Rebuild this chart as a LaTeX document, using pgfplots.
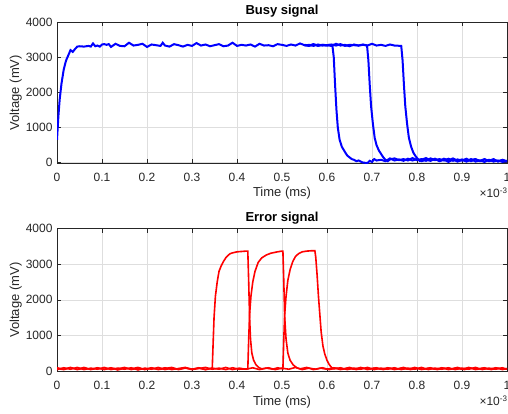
\documentclass[border=0pt]{standalone}
\usepackage{fontspec}
\setmainfont{Liberation Sans}
\usepackage{pgfplots}
\pgfplotsset{compat=1.18}

\definecolor{axgray}{gray}{0.15}
\definecolor{gridgray}{gray}{0.87}

\pgfplotsset{
  scopeax/.style={
    scale only axis,
    width=450pt,
    xmin=0, xmax=1, ymin=-20, ymax=4000,
    xtick={0,0.1,...,1},
    xticklabels={0,0.1,0.2,0.3,0.4,0.5,0.6,0.7,0.8,0.9,1},
    ytick={0,1000,2000,3000,4000},
    /pgf/number format/1000 sep={},
    /pgf/number format/assume math mode=true,
    tick align=inside,
    major tick length=4pt,
    tick style={axgray, line width=0.5pt},
    grid=major,
    major grid style={gridgray, line width=0.5pt},
    axis line style={axgray, line width=0.6pt},
    tick label style={font=\fontsize{12}{14}\selectfont, text=axgray},
    xticklabel style={yshift=-6pt},
    yticklabel style={xshift=-1pt},
    label style={font=\fontsize{13}{15}\selectfont, text=axgray},
    title style={font=\fontsize{13}{15}\selectfont\bfseries, yshift=-5pt},
    xlabel={Time (ms)},
    ylabel={Voltage (mV)},
    xlabel style={yshift=1pt},
    ylabel style={yshift=-3pt},
    clip=true,
  },
}

\begin{document}
\begin{tikzpicture}[x=1pt,y=1pt]
\path[use as bounding box] (0,0) rectangle (508,413);

% ---- Busy signal ----
\begin{axis}[scopeax, at={(57pt,249.7pt)}, anchor=south west, height=141.3pt,
  title={Busy signal}]
\addplot[blue, line width=2pt] coordinates {
(0,650) (0.003,1300) (0.006,1800) (0.01,2250) (0.015,2650) (0.02,2900) (0.025,3050)
(0.03,3200) (0.035,3150) (0.04,3230) (0.045,3300) (0.05,3310) (0.06,3300) (0.07,3320)
(0.075,3300) (0.08,3390) (0.085,3310) (0.09,3330) (0.095,3300) (0.10,3360) (0.105,3370)
(0.11,3350) (0.115,3370) (0.12,3290) (0.13,3380) (0.14,3320) (0.15,3310) (0.16,3410)
(0.17,3330) (0.18,3350) (0.19,3380) (0.20,3290) (0.21,3360) (0.22,3340) (0.23,3320)
(0.235,3410) (0.24,3330) (0.25,3300) (0.26,3370) (0.27,3340) (0.28,3300) (0.29,3350)
(0.30,3320) (0.31,3400) (0.32,3330) (0.33,3360) (0.34,3310) (0.35,3340) (0.36,3370)
(0.37,3310) (0.38,3330) (0.39,3410) (0.40,3320) (0.41,3350) (0.42,3330) (0.43,3360)
(0.44,3300) (0.45,3380) (0.46,3330) (0.47,3340) (0.48,3310) (0.49,3370) (0.50,3350)
(0.51,3320) (0.52,3360) (0.53,3330) (0.54,3390) (0.55,3340) (0.56,3320) (0.57,3360)
(0.58,3330) (0.59,3350) (0.60,3330) (0.605,3350) (0.612,3330) (0.615,3000) (0.618,2200)
(0.621,1500) (0.624,1000) (0.628,650) (0.633,450) (0.64,300) (0.645,200) (0.65,150)
(0.655,100) (0.66,80) (0.665,40) (0.67,60) (0.675,30) (0.68,0) (0.69,-10) (0.695,50)
(0.70,20) (0.705,100) (0.71,60) (0.72,80) (0.73,40) (0.74,120) (0.75,60) (0.76,90)
(0.77,50) (0.78,110) (0.79,60) (0.80,100) (0.81,40) (0.82,80) (0.83,50) (0.84,110)
(0.85,40) (0.86,80) (0.87,20) (0.88,90) (0.89,30) (0.90,70) (0.91,40) (0.92,100)
(0.93,30) (0.94,60) (0.95,20) (0.96,80) (0.97,30) (0.98,60) (0.99,20) (1.0,50)
};
\addplot[blue, line width=2pt] coordinates {
(0.55,3330) (0.56,3350) (0.57,3320) (0.58,3360) (0.59,3330) (0.60,3340) (0.61,3320)
(0.62,3380) (0.63,3330) (0.64,3350) (0.65,3310) (0.66,3360) (0.67,3330) (0.68,3350)
(0.689,3330) (0.692,2900) (0.695,2200) (0.698,1600) (0.702,1100) (0.706,700) (0.71,500)
(0.715,350) (0.72,250) (0.725,150) (0.73,80) (0.735,40) (0.74,90) (0.75,120) (0.76,70)
(0.77,100) (0.78,60) (0.79,130) (0.80,70) (0.81,100) (0.82,50) (0.83,120) (0.84,70)
(0.85,100) (0.86,60) (0.87,110) (0.88,50) (0.89,90) (0.90,60) (0.91,110) (0.92,40)
(0.93,90) (0.94,50) (0.95,100) (0.96,40) (0.97,80) (0.98,40) (0.99,70) (1.0,30)
};
\addplot[blue, line width=2pt] coordinates {
(0.55,3350) (0.56,3330) (0.57,3370) (0.58,3320) (0.59,3350) (0.60,3340) (0.61,3360)
(0.62,3330) (0.63,3370) (0.64,3320) (0.65,3350) (0.66,3340) (0.67,3330) (0.68,3360)
(0.69,3330) (0.70,3380) (0.71,3330) (0.72,3350) (0.73,3320) (0.74,3360) (0.75,3330)
(0.765,3320) (0.768,2900) (0.771,2200) (0.774,1600) (0.778,1100) (0.782,700)
(0.787,450) (0.792,280) (0.797,180) (0.802,100) (0.806,50) (0.81,80) (0.82,130)
(0.83,60) (0.84,100) (0.85,50) (0.86,110) (0.87,60) (0.88,120) (0.89,50) (0.90,90)
(0.91,30) (0.92,80) (0.93,100) (0.94,40) (0.95,90) (0.96,50) (0.97,100) (0.98,30)
(0.99,80) (1.0,40)
};
\end{axis}
\node[anchor=west, text=axgray, font=\fontsize{12}{14}\selectfont]
  at (476,220) {×10\textsuperscript{-3}};

% ---- Error signal ----
\begin{axis}[scopeax, at={(57pt,41.3pt)}, anchor=south west, height=143pt,
  title={Error signal}]
\addplot[red, line width=1.6pt] coordinates {
(0,70) (0.015,40) (0.03,90) (0.045,50) (0.06,100) (0.075,40) (0.09,80) (0.105,50)
(0.12,90) (0.135,30) (0.15,80) (0.165,60) (0.18,100) (0.195,40) (0.21,80) (0.225,50)
(0.24,90) (0.255,40) (0.27,70) (0.285,100) (0.30,50) (0.315,80) (0.33,40) (0.345,80)
(0.347,800) (0.349,1500) (0.352,2100) (0.356,2500) (0.36,2800) (0.365,2960)
(0.37,3080) (0.375,3180) (0.38,3250) (0.385,3300) (0.39,3320) (0.40,3350) (0.41,3360)
(0.42,3370) (0.424,3370) (0.426,2500) (0.428,1500) (0.430,900) (0.433,500) (0.437,300)
(0.442,180) (0.448,100) (0.455,60) (0.47,90) (0.485,40) (0.50,80) (0.515,50) (0.53,100)
(0.545,40) (0.56,80) (0.575,50) (0.59,90) (0.605,40) (0.62,80) (0.635,50) (0.65,100)
(0.665,40) (0.68,80) (0.695,60) (0.71,90) (0.725,40) (0.74,80) (0.755,50) (0.77,100)
(0.785,40) (0.80,70) (0.815,50) (0.83,90) (0.845,40) (0.86,80) (0.875,50) (0.89,100)
(0.905,40) (0.92,80) (0.935,50) (0.95,90) (0.965,40) (0.98,80) (1.0,50)
};
\addplot[red, line width=1.6pt] coordinates {
(0,40) (0.015,90) (0.03,50) (0.045,100) (0.06,40) (0.075,80) (0.09,50) (0.105,100)
(0.12,40) (0.135,80) (0.15,50) (0.165,90) (0.18,30) (0.195,80) (0.21,50) (0.225,100)
(0.24,40) (0.255,80) (0.27,50) (0.285,90) (0.30,40) (0.315,70) (0.33,100) (0.345,50)
(0.36,80) (0.375,40) (0.39,90) (0.405,50) (0.424,60) (0.426,900) (0.428,1600)
(0.431,2100) (0.435,2500) (0.44,2800) (0.447,3050) (0.455,3180) (0.465,3260)
(0.475,3310) (0.49,3350) (0.50,3370) (0.502,3370) (0.504,2500) (0.506,1500)
(0.509,900) (0.513,500) (0.518,300) (0.525,170) (0.533,90) (0.54,60) (0.555,100)
(0.57,40) (0.585,80) (0.60,50) (0.615,90) (0.63,40) (0.645,80) (0.66,50) (0.675,100)
(0.69,40) (0.705,80) (0.72,50) (0.735,90) (0.75,40) (0.765,80) (0.78,50) (0.795,100)
(0.81,40) (0.825,80) (0.84,50) (0.855,90) (0.87,40) (0.885,80) (0.90,50) (0.915,100)
(0.93,40) (0.945,80) (0.96,50) (0.975,90) (0.99,40) (1.0,70)
};
\addplot[red, line width=1.6pt] coordinates {
(0,90) (0.015,50) (0.03,100) (0.045,40) (0.06,80) (0.075,50) (0.09,90) (0.105,40)
(0.12,80) (0.135,60) (0.15,100) (0.165,40) (0.18,80) (0.195,50) (0.21,90) (0.225,40)
(0.24,70) (0.255,100) (0.27,40) (0.285,80) (0.30,50) (0.315,90) (0.33,40) (0.345,80)
(0.36,50) (0.375,100) (0.39,40) (0.405,80) (0.42,50) (0.435,90) (0.45,40) (0.465,80)
(0.48,50) (0.49,90) (0.502,60) (0.504,900) (0.506,1600) (0.509,2100) (0.513,2550)
(0.518,2850) (0.524,3080) (0.53,3220) (0.537,3300) (0.545,3350) (0.555,3370)
(0.565,3380) (0.573,3380) (0.575,3200) (0.578,2700) (0.581,2100) (0.584,1600)
(0.587,1100) (0.591,700) (0.595,480) (0.60,300) (0.605,180) (0.61,100) (0.615,60)
(0.63,90) (0.645,40) (0.66,80) (0.675,50) (0.69,100) (0.705,40) (0.72,80) (0.735,50)
(0.75,90) (0.765,40) (0.78,80) (0.795,50) (0.81,100) (0.825,40) (0.84,80) (0.855,50)
(0.87,90) (0.885,40) (0.90,80) (0.915,50) (0.93,100) (0.945,40) (0.96,80) (0.975,50)
(0.99,90) (1.0,50)
};
\end{axis}
\node[anchor=west, text=axgray, font=\fontsize{12}{14}\selectfont]
  at (476,12) {×10\textsuperscript{-3}};
\end{tikzpicture}
\end{document}
